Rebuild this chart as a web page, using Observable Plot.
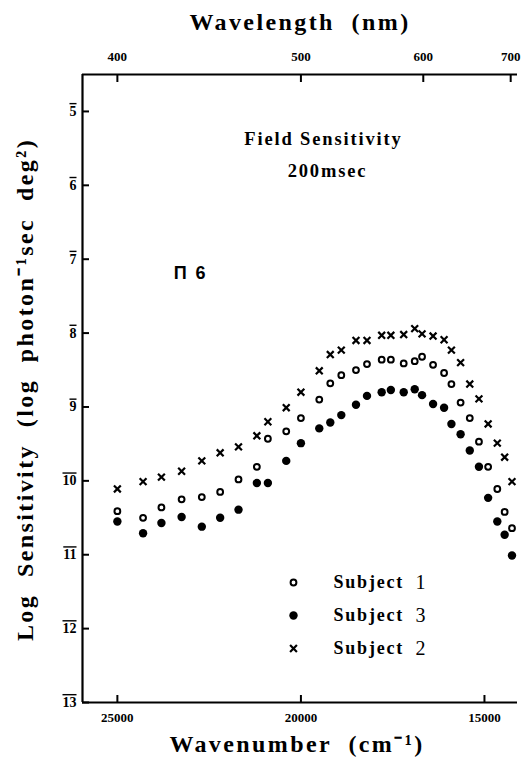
<!DOCTYPE html>
<html><head><meta charset="utf-8">
<script src="https://cdn.jsdelivr.net/npm/d3@7"></script>
<script src="https://cdn.jsdelivr.net/npm/@observablehq/plot@0.6"></script>
<style>
body{margin:0;background:#fff}
#chart svg{display:block}
#chart svg text{white-space:pre}
g[aria-label="y-axis tick label"] text{text-decoration:overline}
</style></head><body><div id="chart"></div>
<script>
// Wavenumber (cm^-1) of each measured point
const wavenumbers = [25000,24300,23800,23250,22700,22200,21700,21200,20900,20400,20000,19500,19200,18900,18500,18200,17800,17550,17200,16900,16700,16400,16100,15900,15650,15400,15150,14900,14650,14450,14250];
// Log sensitivity (negative characteristic, shown with bar notation)
const subject1 = [-10.41,-10.50,-10.36,-10.25,-10.22,-10.15,-9.98,-9.81,-9.43,-9.33,-9.15,-8.90,-8.68,-8.57,-8.50,-8.42,-8.36,-8.36,-8.41,-8.38,-8.32,-8.43,-8.54,-8.69,-8.94,-9.15,-9.47,-9.81,-10.11,-10.42,-10.64];
const subject3 = [-10.55,-10.71,-10.57,-10.49,-10.62,-10.50,-10.39,-10.03,-10.03,-9.73,-9.49,-9.29,-9.21,-9.11,-8.97,-8.85,-8.80,-8.77,-8.80,-8.76,-8.84,-8.96,-9.01,-9.23,-9.37,-9.59,-9.81,-10.23,-10.55,-10.73,-11.01];
const subject2 = [-10.11,-10.01,-9.95,-9.87,-9.73,-9.62,-9.54,-9.39,-9.20,-9.01,-8.80,-8.51,-8.29,-8.23,-8.10,-8.10,-8.03,-8.03,-8.02,-7.94,-8.01,-8.04,-8.09,-8.23,-8.40,-8.69,-8.89,-9.23,-9.49,-9.68,-10.01];
const wavenumberTicks = [25000,20000,15000];
const wavelengthTicks = [400,500,600,700];
const logTicks = [-5,-6,-7,-8,-9,-10,-11,-12,-13];
const xDomain = [25950,14100];
const yDomain = [-13,-4.5];
const legendNames = ["Subject","Subject","Subject"];
const legendNumbers = ["1","3","2"];
const titleTop = "Wavelength  (nm)";
const titleBottom = "Wavenumber  (cm\u207B\u00B9)";
const titleLeft = "Log  Sensitivity  (log  photon\u207B\u00B9sec  deg\u00B2)";
const note1 = "Field Sensitivity";
const note2 = "200msec";
const note3 = "\u03A0 6";

const rows = vals => wavenumbers.map((w,i)=>({w, v: vals[i]}));
const serif = "Liberation Serif, Times New Roman, serif";

const legendMarks = [];
const rowDy = [508, 541, 574];
const legendSymbols = [
  {r:2.9, stroke:"black", strokeWidth:2, fill:"white"},
  {r:4.2, fill:"black"},
  {r:3.2, symbol:"times", stroke:"black", strokeWidth:2.2}
];
legendNames.forEach((name,i)=>{
  legendMarks.push(Plot.dot([name], {x:null, y:null, frameAnchor:"top-left", dx:211, dy:rowDy[i], ...legendSymbols[i]}));
  legendMarks.push(Plot.text([name], {text:d=>d, frameAnchor:"top-left", dx:251, dy:rowDy[i]+5, textAnchor:"start", lineAnchor:"bottom", fontSize:18, fontWeight:"bold", fontFamily:serif}));
  legendMarks.push(Plot.text([legendNumbers[i]], {text:d=>d, frameAnchor:"top-left", dx:333, dy:rowDy[i]+6, textAnchor:"start", lineAnchor:"bottom", fontSize:20, fontWeight:"normal", fontFamily:serif}));
});

const chart = Plot.plot({
  width: 531,
  height: 765,
  marginLeft: 82,
  marginRight: 14,
  marginTop: 74,
  marginBottom: 63,
  style: {fontFamily: serif, fontWeight: "bold", color: "black", background: "white"},
  x: {type: "linear", domain: xDomain},
  y: {type: "linear", domain: yDomain},
  marks: [
    Plot.ruleX([xDomain[0]], {stroke:"black", strokeWidth:2.2}),
    Plot.ruleY([yDomain[0]], {stroke:"black", strokeWidth:2.2}),
    Plot.ruleY([yDomain[1]], {stroke:"black", strokeWidth:2.2}),
    Plot.axisX({anchor:"bottom", ticks: wavenumberTicks, tickFormat: d=>String(d), tickSize:-7, tickPadding:17.5, strokeWidth:2, fontSize:13, fontWeight:"bold", label:null}),
    Plot.axisX({anchor:"top", ticks: wavelengthTicks.map(w=>1e7/w), tickFormat: d=>String(Math.round(1e7/d)), tickSize:-7, tickPadding:21, strokeWidth:2, fontSize:13, fontWeight:"bold", label:null}),
    Plot.axisY({anchor:"left", ticks: logTicks, tickFormat: d=>String(-d), tickSize:-7, tickPadding:13, strokeWidth:2, fontSize:14, fontWeight:"bold", label:null}),
    Plot.dot(rows(subject1), {x:"w", y:"v", r:2.9, stroke:"black", strokeWidth:2, fill:"white"}),
    Plot.dot(rows(subject3), {x:"w", y:"v", r:4.2, fill:"black"}),
    Plot.dot(rows(subject2), {x:"w", y:"v", r:3.2, symbol:"times", stroke:"black", strokeWidth:2.2}),
    Plot.text([titleTop], {text:d=>d, frameAnchor:"top", dy:-45, textAnchor:"middle", lineAnchor:"bottom", fontSize:24, fontWeight:"bold", fontFamily:serif}),
    Plot.text([titleBottom], {text:d=>d, frameAnchor:"bottom", dx:-3, dy:49, textAnchor:"middle", lineAnchor:"bottom", fontSize:24, fontWeight:"bold", fontFamily:serif}),
    Plot.text([titleLeft], {text:d=>d, frameAnchor:"left", dx:-50, dy:1, rotate:-90, textAnchor:"middle", lineAnchor:"bottom", fontSize:24, fontWeight:"bold", fontFamily:serif}),
    Plot.text([note1], {text:d=>d, frameAnchor:"top-left", dx:241, dy:70, textAnchor:"middle", lineAnchor:"bottom", fontSize:18.5, fontWeight:"bold", fontFamily:serif}),
    Plot.text([note2], {text:d=>d, frameAnchor:"top-left", dx:245, dy:102, textAnchor:"middle", lineAnchor:"bottom", fontSize:18.5, fontWeight:"bold", fontFamily:serif}),
    Plot.text([note3], {text:d=>d, frameAnchor:"top-left", dx:108, dy:204, textAnchor:"middle", lineAnchor:"bottom", fontSize:18, fontWeight:"bold", fontFamily:"Liberation Sans, Arial, sans-serif"}),
    ...legendMarks
  ]
});
document.getElementById("chart").appendChild(chart);
chart.querySelectorAll("text").forEach(t => {
  const fs = parseFloat(getComputedStyle(t).fontSize);
  if (fs >= 18) t.style.letterSpacing = (fs * 0.1) + "px";
});
</script></body></html>
